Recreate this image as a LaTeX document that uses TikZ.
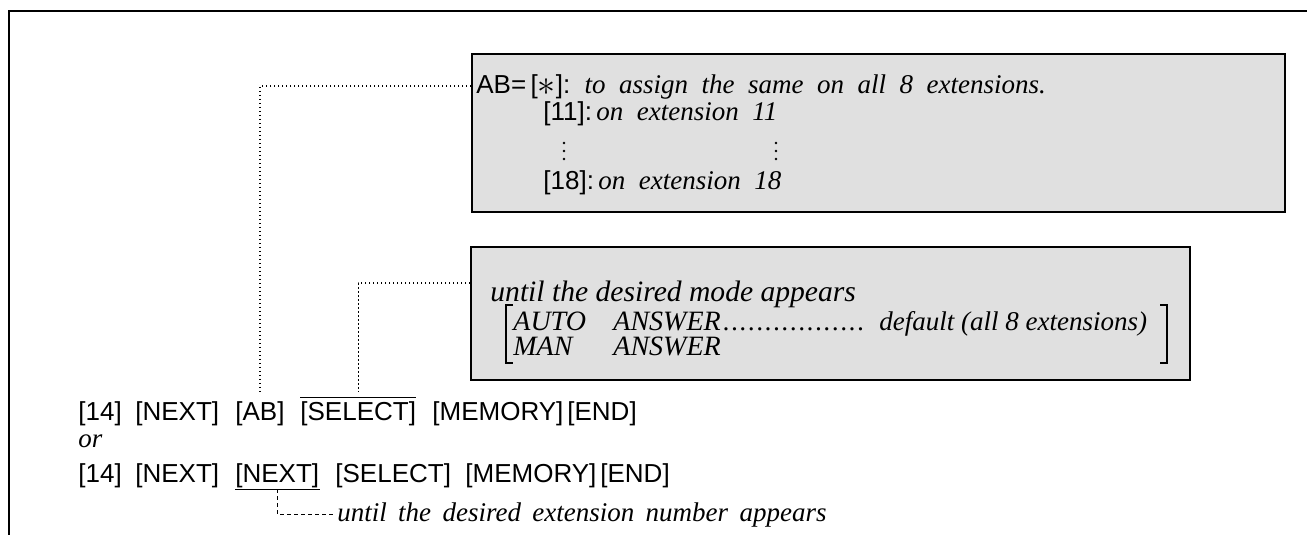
\documentclass[tikz,border=0pt]{standalone}
\usepackage{fontspec}
\setmainfont{Liberation Serif}
\setsansfont{Liberation Sans}
\newcommand\keyfont{\fontsize{13}{15}\selectfont\sffamily}
\newcommand\itfont{\fontsize{13.5}{16}\selectfont\rmfamily\itshape}
\newcommand\bigit{\fontsize{14.8}{17}\selectfont\rmfamily\itshape}
\newcommand\capit{\fontsize{14}{14}\selectfont\rmfamily\itshape}
\newcommand\widesp{\spaceskip=0.5em plus 0.1em\relax}
\newcommand\midsp{\spaceskip=0.42em plus 0.1em\relax}
\tikzset{
  key/.style={inner sep=0pt, anchor=base west, font=\keyfont},
  itx/.style={inner sep=0pt, anchor=base west, font=\itfont},
  bigitx/.style={inner sep=0pt, anchor=base west, font=\bigit},
  capitx/.style={inner sep=0pt, anchor=base west, font=\capit},
  infobox/.style={draw=black, line width=0.8pt, fill=black!12, inner sep=0pt},
  dotline/.style={line width=0.6pt, dash pattern=on 0.8pt off 1.2pt},
  dashline/.style={line width=0.5pt, dash pattern=on 2pt off 1.5pt},
  frameline/.style={line width=1pt},
  barline/.style={line width=0.6pt},
  vdot/.style={fill=black, draw=none}
}
\begin{document}
\begin{tikzpicture}[x=0.5pt,y=-0.5pt]
\useasboundingbox (0,0) rectangle (1307,535);
% frame
\draw[frameline] (9,535) -- (9,11) -- (1307,11);
% boxes
\node[infobox, minimum width=406.5pt, minimum height=79pt] (b1) at (878.5,133) {};
\node[infobox, minimum width=359.5pt, minimum height=66.5pt] (b2) at (830.5,313.5) {};
% box 1 text
\node[key] (l1) at (476,94) {AB=\,[\raisebox{-0.8pt}{\scalebox{1.5}{$\ast$}}]:\ \ {\itfont\widesp to assign the same on all 8 extensions.}};
\node[key] (l2) at (543,121) {[11]:\,{\itfont\widesp on extension 11}};
\foreach \yy in {143,151,159} {
  \fill[vdot] (564,\yy) circle[radius=0.7pt];
  \fill[vdot] (776,\yy) circle[radius=0.7pt];
}
\node[key] (l4) at (543,190) {[18]:\,{\itfont\widesp on extension 18}};
% box 2 text
\node[bigitx] (m1) at (490,301) {until the desired mode appears};
\node[capitx] (m2a) at (513,330) {AUTO};
\node[capitx] (m2b) at (613,330) {ANSWER{\itfont\leaders\hbox to 4.2pt{\hss.\hss}\hskip 76pt\relax\ default (all 8 extensions)}};
\node[capitx] (m3a) at (513,355) {MAN};
\node[capitx] (m3b) at (613,355) {ANSWER};
\draw[barline] (513,305) -- (506,305) -- (506,363) -- (513,363);
\draw[barline] (1160,305) -- (1167,305) -- (1167,363) -- (1160,363);
% command line 1
\node[key] (a14) at (78,420) {[14]};
\node[key] (anx) at (135,420) {[NEXT]};
\node[key] (aab) at (235,420) {[AB]};
\node[key] (asel) at (300,420) {[SELECT]};
\node[key] (amem) at (432,420) {[MEMORY]};
\node[key] (aend) at (567,420) {[END]};
\draw[barline] ([yshift=1.5pt]asel.north west) -- ([yshift=1.5pt]asel.north east);
% or
\node[itx] (or) at (78,447) {or};
% command line 2
\node[key] (c14) at (78,482) {[14]};
\node[key] (cnx) at (135,482) {[NEXT]};
\node[key] (cnx2) at (235,482) {[NEXT]};
\node[key] (csel) at (335,482) {[SELECT]};
\node[key] (cmem) at (465,482) {[MEMORY]};
\node[key] (cend) at (600,482) {[END]};
\draw[barline] ([yshift=-0.8pt]cnx2.south west) -- ([yshift=-0.8pt]cnx2.south east);
\coordinate (ul) at ([yshift=-0.8pt]cnx2.south);
\node[itx] (until) at (337,521) {\midsp until the desired extension number appears};
% connectors
\draw[dotline] ([yshift=23.5pt]b1.west) -| ([yshift=4pt]aab.north);
\draw[dotline] ([yshift=15.25pt]b2.west) -| ([yshift=4.5pt]asel.north);
\draw[dashline] (ul) |- ([xshift=-2pt]until.west);
\end{tikzpicture}
\end{document}
